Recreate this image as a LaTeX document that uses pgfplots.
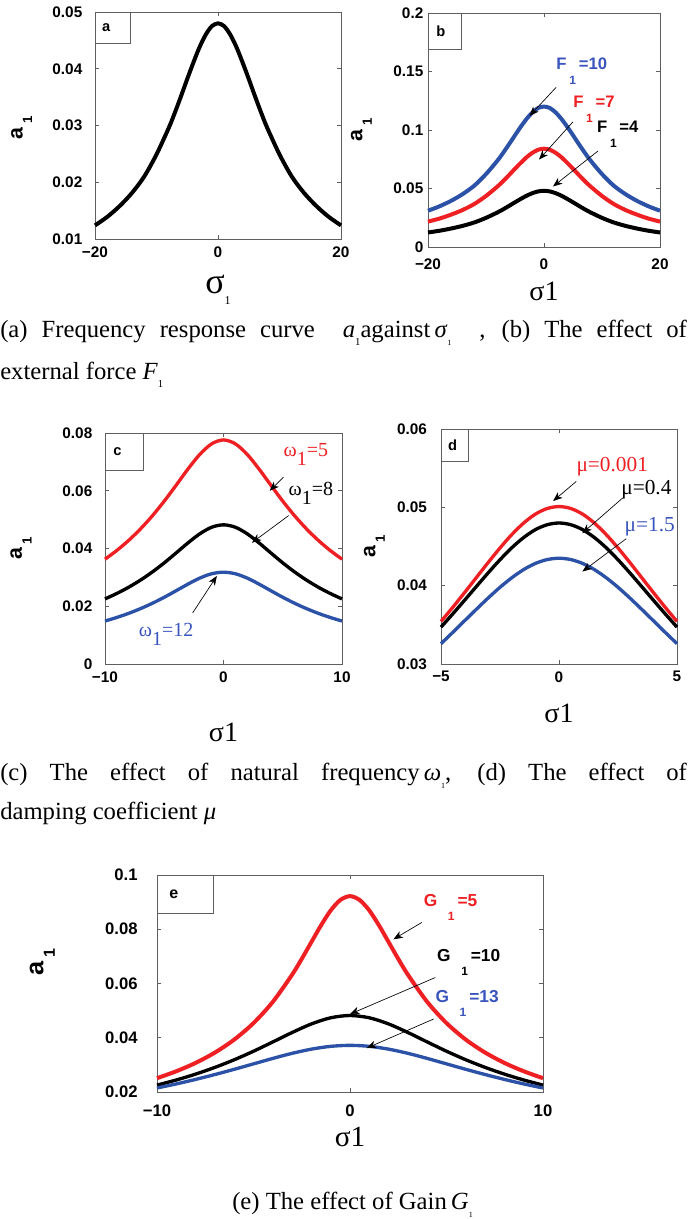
\documentclass[border=0pt]{standalone}
\usepackage{fontspec}
\setmainfont{Liberation Serif}
\setsansfont{Liberation Sans}
\usepackage{pgfplots}
\usepackage{pgfplotstable}
\pgfplotsset{compat=1.18}
\usetikzlibrary{arrows.meta}

\definecolor{mred}{RGB}{238,32,36}
\definecolor{mblue}{RGB}{44,82,168}
\definecolor{lblue}{RGB}{58,84,190}
\definecolor{axgray}{RGB}{95,95,95}

\newcommand{\tl}{\sffamily\bfseries\fontsize{11.5}{13}\selectfont}
\newcommand{\sub}[2]{\raisebox{#1}{\fontsize{#2}{#2}\selectfont 1}}

\pgfplotsset{
  mystyle/.style={
    scale only axis, anchor=south west, clip=false, scaled ticks=false,
    axis line style={axgray, line width=0.6pt},
    tick style={axgray, line width=0.5pt}, tick align=inside, major tick length=3pt,
    tick label style={font=\tl, black},
    xticklabel style={yshift=-2pt},
  },
}
\tikzset{arr/.style={black, line width=0.5pt, -{Stealth[length=7pt,width=5.5pt,inset=2pt]}}}

\pgfplotstableread{
s a
-20 0.0124
-18 0.0139
-16 0.0158
-14 0.0181
-12 0.0210
-10 0.0249
-8 0.0296
-7 0.0323
-6 0.0352
-5 0.0382
-4 0.0411
-3 0.0438
-2 0.0460
-1 0.0475
0 0.0480
1 0.0475
2 0.0460
3 0.0438
4 0.0411
5 0.0382
6 0.0352
7 0.0323
8 0.0296
10 0.0249
12 0.0210
14 0.0181
16 0.0158
18 0.0139
20 0.0124
}\tableA

\pgfplotstableread{
s k r b
-20 0.0124 0.0217 0.0310
-18 0.0139 0.0243 0.0348
-16 0.0158 0.0277 0.0395
-14 0.0181 0.0317 0.0453
-12 0.0210 0.0368 0.0525
-10 0.0249 0.0436 0.0623
-8 0.0296 0.0518 0.0740
-7 0.0323 0.0565 0.0808
-6 0.0352 0.0616 0.0880
-5 0.0382 0.0669 0.0955
-4 0.0411 0.0719 0.1028
-3 0.0438 0.0767 0.1095
-2 0.0460 0.0805 0.1150
-1 0.0475 0.0831 0.1188
0 0.0480 0.0840 0.1200
1 0.0475 0.0831 0.1188
2 0.0460 0.0805 0.1150
3 0.0438 0.0767 0.1095
4 0.0411 0.0719 0.1028
5 0.0382 0.0669 0.0955
6 0.0352 0.0616 0.0880
7 0.0323 0.0565 0.0808
8 0.0296 0.0518 0.0740
10 0.0249 0.0436 0.0623
12 0.0210 0.0368 0.0525
14 0.0181 0.0317 0.0453
16 0.0158 0.0277 0.0395
18 0.0139 0.0243 0.0348
20 0.0124 0.0217 0.0310
}\tableB

\pgfplotstableread{
s k r b
-10 0.02254 0.0363 0.01487
-9 0.02443 0.03933 0.01612
-8 0.02659 0.04281 0.01754
-7 0.02907 0.0468 0.01918
-6 0.03188 0.05133 0.02103
-5 0.03503 0.0564 0.02311
-4 0.03845 0.0619 0.02537
-3 0.04193 0.06751 0.02766
-2 0.04509 0.07259 0.02975
-1 0.04736 0.07625 0.03125
0 0.0482 0.0776 0.0318
1 0.04736 0.07625 0.03125
2 0.04509 0.07259 0.02975
3 0.04193 0.06751 0.02766
4 0.03845 0.0619 0.02537
5 0.03503 0.0564 0.02311
6 0.03188 0.05133 0.02103
7 0.02907 0.0468 0.01918
8 0.02659 0.04281 0.01754
9 0.02443 0.03933 0.01612
10 0.02254 0.0363 0.01487
}\tableC

\pgfplotstableread{
s r k b
-5 0.03543 0.03471 0.03259
-4.5 0.03724 0.03640 0.03404
-4 0.03912 0.03814 0.03552
-3.5 0.04104 0.03990 0.03699
-3 0.04296 0.04164 0.03843
-2.5 0.04481 0.04331 0.03979
-2 0.04652 0.04484 0.04101
-1.5 0.04799 0.04614 0.04205
-1 0.04913 0.04715 0.04284
-0.5 0.04985 0.04778 0.04333
0 0.0501 0.0480 0.0435
0.5 0.04985 0.04778 0.04333
1 0.04913 0.04715 0.04284
1.5 0.04799 0.04614 0.04205
2 0.04652 0.04484 0.04101
2.5 0.04481 0.04331 0.03979
3 0.04296 0.04164 0.03843
3.5 0.04104 0.03990 0.03699
4 0.03912 0.03814 0.03552
4.5 0.03724 0.03640 0.03404
5 0.03543 0.03471 0.03259
}\tableD

\pgfplotstableread{
s r
-10 0.02509
-9 0.02764
-8 0.03073
-7 0.03454
-6 0.03931
-5 0.04540
-4 0.05323
-3 0.06325
-2.5 0.06908
-2 0.07528
-1.5 0.08145
-1 0.08693
-0.5 0.09079
0 0.0922
0.5 0.09079
1 0.08693
1.5 0.08145
2 0.07528
2.5 0.06908
3 0.06325
4 0.05323
5 0.04540
6 0.03931
7 0.03454
8 0.03073
9 0.02764
10 0.02509
}\tableEr

\pgfplotstableread{
s k b
-10 0.02254 0.02148
-9 0.02443 0.02298
-8 0.02659 0.02464
-7 0.02907 0.02644
-6 0.03188 0.02836
-5 0.03503 0.03037
-4 0.03845 0.03238
-3 0.04193 0.03425
-2 0.04509 0.03580
-1 0.04736 0.03683
0 0.0482 0.0372
1 0.04736 0.03683
2 0.04509 0.03580
3 0.04193 0.03425
4 0.03845 0.03238
5 0.03503 0.03037
6 0.03188 0.02836
7 0.02907 0.02644
8 0.02659 0.02464
9 0.02443 0.02298
10 0.02254 0.02148
}\tableEk

\begin{document}
\begin{tikzpicture}
\path[use as bounding box] (0,0) rectangle (515.25pt,914.25pt);

% ---------------- (a)
\begin{axis}[mystyle, at={(71.25pt,735pt)}, width=184.5pt, height=170.25pt,
  xmin=-20, xmax=20, ymin=0.01, ymax=0.05,
  xtick={-20,0,20}, xticklabels={−20,0,20},
  ytick={0.01,0.02,0.03,0.04,0.05}, yticklabels={0.01,0.02,0.03,0.04,0.05},
  yticklabel style={xshift=-6pt}]
\addplot[black, line width=3pt, smooth] table[x=s, y=a] {\tableA};
\node[draw=axgray, line width=0.6pt, anchor=north west, minimum height=23pt, inner xsep=5pt, inner ysep=0pt, text width=16pt, font=\sffamily\bfseries\fontsize{11}{12}\selectfont] at (rel axis cs:0,1) {a};
\node[xshift=-55pt, rotate=90, font=\sffamily\bfseries\fontsize{16}{17}\selectfont] at (rel axis cs:0,0.49) {a\,\sub{-0.45em}{10}};
\node[yshift=-38pt, font=\fontsize{27}{27}\selectfont] at (rel axis cs:0.5,0) {σ\sub{-0.3em}{9}};
\end{axis}

% ---------------- (b)
\begin{axis}[mystyle, at={(321pt,729pt)}, width=174pt, height=175.5pt,
  xmin=-20, xmax=20, ymin=0, ymax=0.2,
  xtick={-20,0,20}, xticklabels={−20,0,20},
  ytick={0,0.05,0.1,0.15,0.2}, yticklabels={0,0.05,0.1,0.15,0.2},
  xticklabel style={yshift=-3.5pt},
  yticklabel style={xshift=0pt}]
\addplot[mblue, line width=3pt, smooth] table[x=s, y=b] {\tableB};
\addplot[mred, line width=3pt, smooth] table[x=s, y=r] {\tableB};
\addplot[black, line width=3pt, smooth] table[x=s, y=k] {\tableB};
\draw[arr] (axis cs:2.1,0.1365) -- (axis cs:-2.5,0.112);
\draw[arr] (axis cs:5.0,0.107) -- (axis cs:-0.86,0.0747);
\draw[arr] (axis cs:9.3,0.082) -- (axis cs:1.55,0.0517);
\node[anchor=base west, inner sep=0pt, lblue, font=\sffamily\bfseries\fontsize{12.5}{13}\selectfont] at (axis cs:2.1,0.152) {F\,\sub{-0.9em}{9}\,=10};
\node[anchor=base west, inner sep=0pt, mred, font=\sffamily\bfseries\fontsize{12.5}{13}\selectfont] at (axis cs:5.0,0.119) {F\,\sub{-0.9em}{9}\,=7};
\node[anchor=base west, inner sep=0pt, black, font=\sffamily\bfseries\fontsize{12.5}{13}\selectfont] at (axis cs:9.1,0.0977) {F\,\sub{-0.9em}{9}\,=4};
\node[draw=axgray, line width=0.6pt, anchor=north west, minimum height=27pt, inner xsep=6pt, inner ysep=0pt, text width=13pt, font=\sffamily\bfseries\fontsize{11}{12}\selectfont] at (rel axis cs:0,1) {b};
\node[xshift=-50pt, rotate=90, font=\sffamily\bfseries\fontsize{16}{17}\selectfont] at (rel axis cs:0,0.5) {a\,\sub{-0.45em}{10}};
\node[yshift=-33pt, font=\fontsize{21}{21}\selectfont] at (rel axis cs:0.5,0) {σ1};
\end{axis}

% ---------------- (c)
\begin{axis}[mystyle, at={(78.75pt,416.25pt)}, width=177.75pt, height=173.25pt,
  xmin=-10, xmax=10, ymin=0, ymax=0.08,
  xtick={-10,0,10}, xticklabels={−10,0,10},
  ytick={0,0.02,0.04,0.06,0.08}, yticklabels={0,0.02,0.04,0.06,0.08},
  yticklabel style={xshift=-6pt}]
\addplot[mred, line width=2.5pt, smooth] table[x=s, y=r] {\tableC};
\addplot[black, line width=2.5pt, smooth] table[x=s, y=k] {\tableC};
\addplot[mblue, line width=2.5pt, smooth] table[x=s, y=b] {\tableC};
\draw[arr] (axis cs:5.06,0.0647) -- (axis cs:3.9,0.0600);
\draw[arr] (axis cs:5.5,0.0514) -- (axis cs:2.4,0.0420);
\draw[arr] (axis cs:-2.6,0.0177) -- (axis cs:-0.56,0.0305);
\node[anchor=base west, inner sep=0pt, mred, font=\fontsize{15}{16}\selectfont] at (axis cs:5.06,0.0717) {ω\raisebox{-0.45em}{1}=5};
\node[anchor=base west, inner sep=0pt, black, font=\fontsize{15}{16}\selectfont] at (axis cs:5.48,0.0583) {ω\raisebox{-0.45em}{1}=8};
\node[anchor=base west, inner sep=0pt, lblue, font=\fontsize{15}{16}\selectfont] at (axis cs:-7.16,0.0096) {ω\raisebox{-0.45em}{1}=12};
\node[draw=axgray, line width=0.6pt, anchor=north west, minimum height=27.75pt, inner xsep=6pt, inner ysep=0pt, text width=16.5pt, font=\sffamily\bfseries\fontsize{11}{12}\selectfont] at (rel axis cs:0,1) {c};
\node[xshift=-63pt, rotate=90, font=\sffamily\bfseries\fontsize{16}{17}\selectfont] at (rel axis cs:0,0.5) {a\,\sub{-0.45em}{10}};
\node[yshift=-51pt, font=\fontsize{21}{21}\selectfont] at (rel axis cs:0.5,0) {σ1};
\end{axis}

% ---------------- (d)
\begin{axis}[mystyle, at={(330.75pt,416.25pt)}, width=177pt, height=176.25pt,
  xmin=-5, xmax=5, ymin=0.03, ymax=0.06,
  xtick={-5,0,5}, xticklabels={−5,0,5},
  ytick={0.03,0.04,0.05,0.06}, yticklabels={0.03,0.04,0.05,0.06},
  yticklabel style={xshift=-7pt}]
\addplot[mred, line width=2.5pt, smooth] table[x=s, y=r] {\tableD};
\addplot[black, line width=2.5pt, smooth] table[x=s, y=k] {\tableD};
\addplot[mblue, line width=2.5pt, smooth] table[x=s, y=b] {\tableD};
\draw[arr] (axis cs:0.73,0.0533) -- (axis cs:-0.25,0.0508);
\draw[arr] (axis cs:2.70,0.0512) -- (axis cs:0.99,0.0467);
\draw[arr] (axis cs:2.85,0.0460) -- (axis cs:0.99,0.0418);
\node[anchor=base west, inner sep=0pt, mred, font=\fontsize{16}{17}\selectfont] at (axis cs:0.73,0.0546) {μ=0.001};
\node[anchor=base west, inner sep=0pt, black, font=\fontsize{16}{17}\selectfont] at (axis cs:2.63,0.0516) {μ=0.4};
\node[anchor=base west, inner sep=0pt, lblue, font=\fontsize{16}{17}\selectfont] at (axis cs:2.77,0.0469) {μ=1.5};
\node[draw=axgray, line width=0.6pt, anchor=north west, minimum height=24pt, inner xsep=5pt, inner ysep=0pt, text width=10pt, font=\sffamily\bfseries\fontsize{11}{12}\selectfont] at (rel axis cs:0,1) {d};
\node[xshift=-50pt, rotate=90, font=\sffamily\bfseries\fontsize{16}{17}\selectfont] at (rel axis cs:0,0.5) {a\,\sub{-0.45em}{10}};
\node[yshift=-37pt, font=\fontsize{21}{21}\selectfont] at (rel axis cs:0.5,0) {σ1};
\end{axis}

% ---------------- (e)
\begin{axis}[mystyle, at={(117.75pt,95.25pt)}, width=289.5pt, height=162.75pt,
  xmin=-10, xmax=10, ymin=0.02, ymax=0.1,
  xtick={-10,0,10}, xticklabels={−10,0,10},
  ytick={0.02,0.04,0.06,0.08,0.1}, yticklabels={0.02,0.04,0.06,0.08,0.1},
  tick label style={font=\sffamily\bfseries\fontsize{12.5}{13}\selectfont},
  xticklabel style={yshift=-4pt},
  yticklabel style={xshift=-11pt}]
\addplot[mred, line width=3pt, smooth] table[x=s, y=r] {\tableEr};
\addplot[black, line width=2.5pt, smooth] table[x=s, y=k] {\tableEk};
\addplot[mblue, line width=2.5pt, smooth] table[x=s, y=b] {\tableEk};
\draw[arr] (axis cs:3.72,0.0825) -- (axis cs:2.25,0.0763);
\draw[arr] (axis cs:4.42,0.0622) -- (axis cs:0,0.0487);
\draw[arr] (axis cs:4.33,0.0469) -- (axis cs:0.87,0.0362);
\node[anchor=base west, inner sep=0pt, mred, font=\sffamily\bfseries\fontsize{13}{14}\selectfont] at (axis cs:3.81,0.0883) {G\hspace{8pt}\sub{-0.8em}{9}\,=5};
\node[anchor=base west, inner sep=0pt, black, font=\sffamily\bfseries\fontsize{13}{14}\selectfont] at (axis cs:4.5,0.068) {G\hspace{8pt}\sub{-0.8em}{9}\,=10};
\node[anchor=base west, inner sep=0pt, lblue, font=\sffamily\bfseries\fontsize{13}{14}\selectfont] at (axis cs:4.42,0.053) {G\hspace{8pt}\sub{-0.8em}{9}\,=13};
\node[draw=axgray, line width=0.6pt, anchor=north west, minimum height=28.5pt, inner xsep=9pt, inner ysep=0pt, text width=24pt, font=\sffamily\bfseries\fontsize{12}{13}\selectfont] at (rel axis cs:0,1) {e};
\node[xshift=-86pt, rotate=90, font=\sffamily\bfseries\fontsize{19}{20}\selectfont] at (rel axis cs:0,0.6) {a\,\sub{-0.45em}{12}};
\node[yshift=-34pt, font=\fontsize{22}{22}\selectfont] at (rel axis cs:0.5,0) {σ1};
\end{axis}

% ---------------- captions
\node[anchor=base west, inner sep=0pt, font=\fontsize{18.5}{20}\selectfont] at (0pt,660.75pt)
  {\makebox[515pt][s]{(a) Frequency response curve \ \textit{a}\sub{-0.3em}{8}against\,\textit{σ}\sub{-0.3em}{6} \ , (b) The effect of}};
\node[anchor=base west, inner sep=0pt, font=\fontsize{18.5}{20}\selectfont] at (0pt,629.25pt)
  {external force \textit{F}\sub{-0.3em}{8}};
\node[anchor=base west, inner sep=0pt, font=\fontsize{18.5}{20}\selectfont] at (0pt,328.5pt)
  {\makebox[515pt][s]{(c) The effect of natural frequency\,\textit{ω}\sub{-0.3em}{6}, (d) The effect of}};
\node[anchor=base west, inner sep=0pt, font=\fontsize{18.5}{20}\selectfont] at (0pt,299.25pt)
  {damping coefficient \textit{μ}};
\node[anchor=base west, inner sep=0pt, font=\fontsize{18.5}{20}\selectfont] at (174pt,6.75pt)
  {(e) The effect of Gain\,\textit{G}\sub{-0.3em}{6}};
\end{tikzpicture}
\end{document}
